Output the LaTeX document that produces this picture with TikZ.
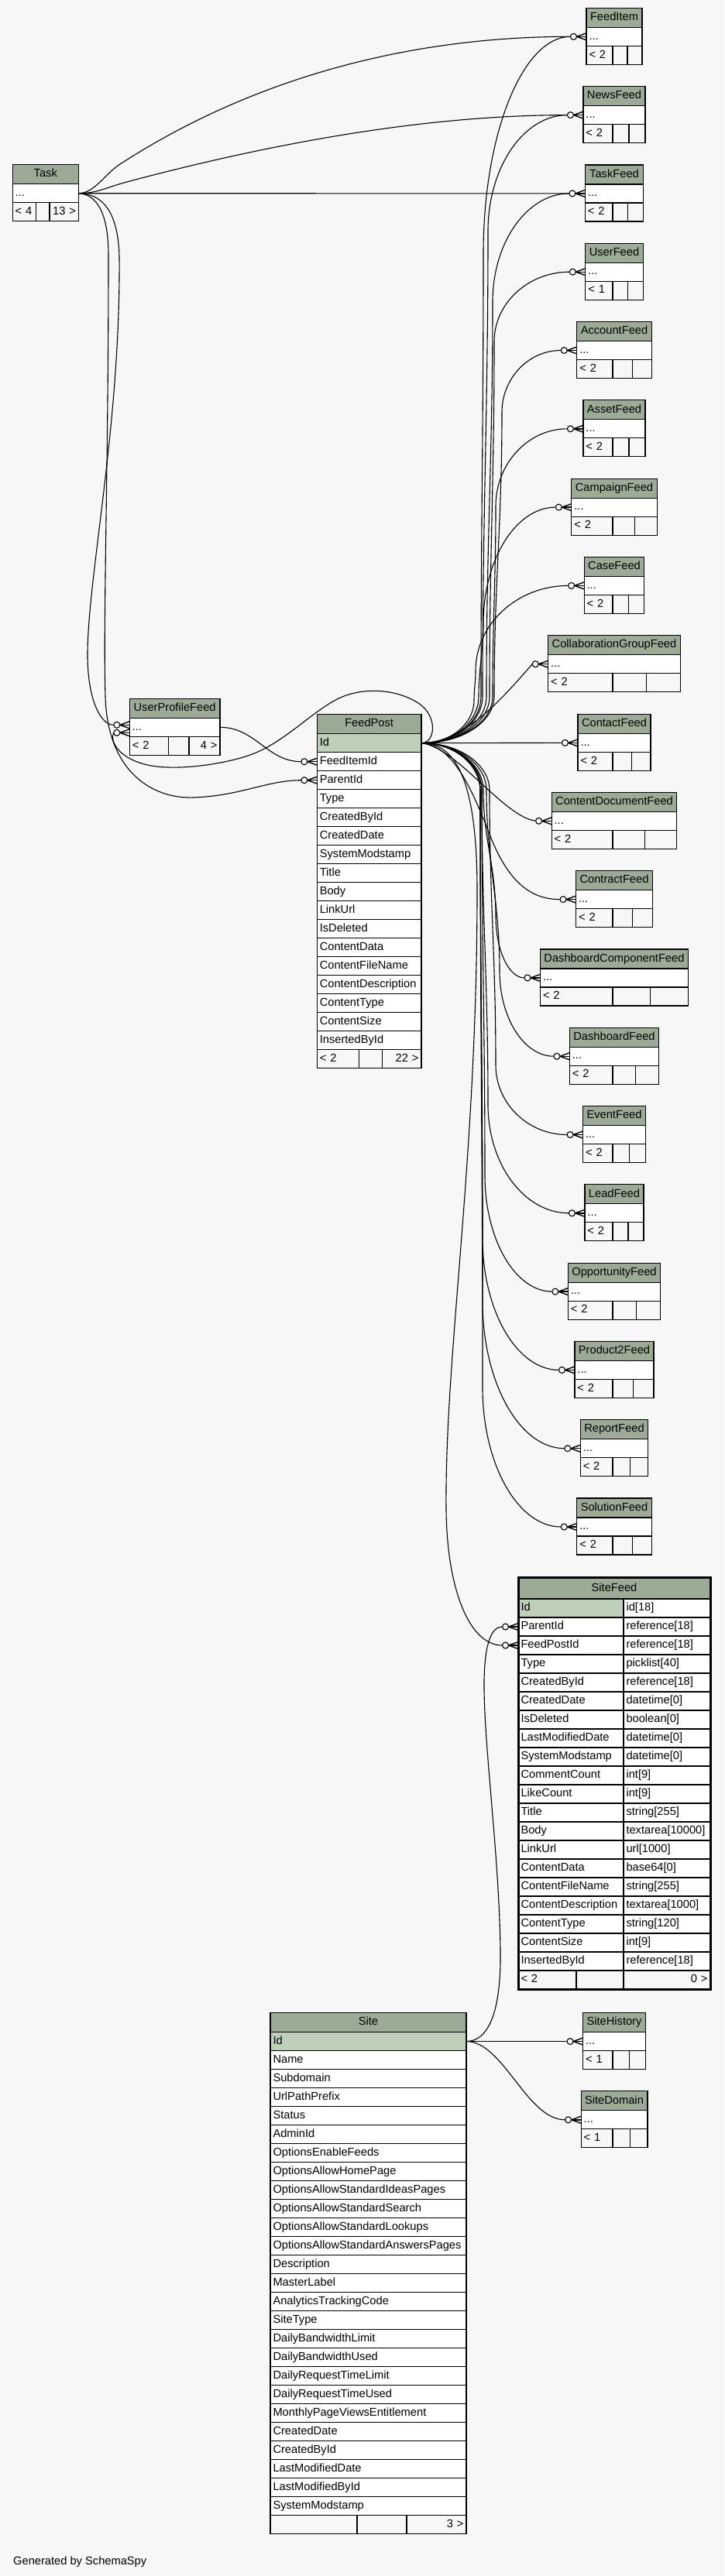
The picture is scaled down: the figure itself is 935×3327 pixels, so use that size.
\documentclass[tikz,border=0pt]{standalone}
\usepackage{fontspec}
\setmainfont{Liberation Sans}
\usetikzlibrary{calc}
\definecolor{bgcol}{HTML}{F7F7F7}
\definecolor{hdrgreen}{HTML}{9BAB96}
\definecolor{pkgreen}{HTML}{BED1B8}
\newcommand\tf{\fontsize{14.67}{17}\selectfont}
\pgfdeclarelayer{bglayer}
\pgfdeclarelayer{edgelayer}
\pgfsetlayers{bglayer,edgelayer,main}
\tikzset{
  cellbase/.style={draw=black, line width=1.2pt, inner xsep=3.5pt, inner ysep=0pt,
    minimum height=24pt, text height=10.5pt, text depth=3pt, font=\tf,
    anchor=north west, outer sep=0pt},
  hdrcell/.style={cellbase, fill=hdrgreen, align=center, minimum height=25pt},
  pkcell/.style={cellbase, fill=pkgreen, align=left},
  bodycell/.style={cellbase, fill=white, align=left},
  footcell/.style={cellbase, fill=bgcol, align=left},
  footright/.style={cellbase, fill=bgcol, align=right},
  edge/.style={draw=black, line width=1.1pt},
  crowline/.style={draw=black, line width=1.4pt, line join=round},
}
\newcommand\cellnode[6]{%
  \pgfmathsetmacro\cellw{#5-7}%
  \node[#1, text width=\cellw pt] (#2) at (#3,#4) {\mbox{#6}};%
}
\newcommand\smalltbl[5]{%
  \pgfmathsetmacro\tbxl{793-(#3)/2}%
  \pgfmathsetmacro\tbxr{793+(#3)/2}%
  \pgfmathsetmacro\tbsb{(791+\tbxr)/2}%
  \cellnode{hdrcell}{#1}{\tbxl}{#4}{#3}{#2}%
  \cellnode{bodycell}{#1-r}{\tbxl}{#4+25}{#3}{...}%
  \cellnode{footcell}{#1-fa}{\tbxl}{#4+49}{791-\tbxl}{#5}%
  \cellnode{footcell}{#1-fb}{791}{#4+49}{\tbsb-791}{}%
  \cellnode{footcell}{#1-fc}{\tbsb}{#4+49}{\tbxr-\tbsb}{}%
  \coordinate (#1-in) at ($(#1-r.west)+(-20.5,0)$);%
}
\newcommand\crowat[2]{%
  \draw[edge] ($(#1.west)+(-16.5,#2)$) circle[radius=4pt];
  \draw[crowline] ($(#1.west)+(0,#2-4.5)$) -- ($(#1.west)+(-12.5,#2)$) -- ($(#1.west)+(0,#2+4.5)$);
  \draw[crowline] ($(#1.west)+(-12.5,#2)$) -- ($(#1.west)+(0,#2)$);
}
% #1 target table, #2 trunk x low, #3 trunk x high, #4 first bend y, #5 signed bend height
\newcommand\fan[5]{%
  \draw[edge] let \p1=(FeedPost-Id.east), \p2=(#1-in) in
    (FeedPost-Id.east) .. controls ({\x1+0.6*(#2pt-\x1)},\y1) and (#2pt,{0.5*(\y1-#4pt)}) .. (#2pt,-#4pt)
    .. controls (#2pt,{-#4pt+0.4*(\y2-(#5pt)+#4pt)}) and (#3pt,{\y2-(#5pt)-0.4*(\y2-(#5pt)+#4pt)}) .. (#3pt,{\y2-(#5pt)})
    .. controls (#3pt,{\y2-0.45*(#5pt)}) and ({#3pt+0.45*(\x2-#3pt)},\y2) .. (#1-in);
  \crowat{#1-r}{0}%
}
\begin{document}
\begin{tikzpicture}[x=1pt,y=-1pt]
\useasboundingbox (0,0) rectangle (935,3327);
\begin{pgfonlayer}{bglayer}
\fill[bgcol] (0,0) rectangle (935,3327);
\end{pgfonlayer}

% ---------- small tables on the right ----------
\smalltbl{FeedItem}{FeedItem}{72.0}{10.3}{<~2}
\smalltbl{NewsFeed}{NewsFeed}{80.1}{111.6}{<~2}
\smalltbl{TaskFeed}{TaskFeed}{75.2}{212.9}{<~2}
\smalltbl{UserFeed}{UserFeed}{74.4}{314.2}{<~1}
\smalltbl{AccountFeed}{AccountFeed}{96.4}{415.5}{<~2}
\smalltbl{AssetFeed}{AssetFeed}{80.1}{516.8}{<~2}
\smalltbl{CampaignFeed}{CampaignFeed}{110.3}{618.1}{<~2}
\smalltbl{CaseFeed}{CaseFeed}{77.7}{719.4}{<~2}
\smalltbl{CollaborationGroupFeed}{CollaborationGroupFeed}{170.6}{820.7}{<~2}
\smalltbl{ContactFeed}{ContactFeed}{94.0}{922.4}{<~2}
\smalltbl{ContentDocumentFeed}{ContentDocumentFeed}{161.7}{1023.3}{<~2}
\smalltbl{ContractFeed}{ContractFeed}{98.9}{1124.6}{<~2}
\smalltbl{DashboardComponentFeed}{DashboardComponentFeed}{191.0}{1225.9}{<~2}
\smalltbl{DashboardFeed}{DashboardFeed}{115.2}{1327.2}{<~2}
\smalltbl{EventFeed}{EventFeed}{80.9}{1428.5}{<~2}
\smalltbl{LeadFeed}{LeadFeed}{76.1}{1529.8}{<~2}
\smalltbl{OpportunityFeed}{OpportunityFeed}{119.3}{1631.1}{<~2}
\smalltbl{Product2Feed}{Product2Feed}{102.1}{1732.4}{<~2}
\smalltbl{ReportFeed}{ReportFeed}{87.5}{1833.7}{<~2}
\smalltbl{SolutionFeed}{SolutionFeed}{96.4}{1935.0}{<~2}
\smalltbl{SiteHistory}{SiteHistory}{80.9}{2599.5}{<~1}
\smalltbl{SiteDomain}{SiteDomain}{85.8}{2700.8}{<~1}

% ---------- Task ----------
\cellnode{hdrcell}{Task}{16.1}{212.7}{85.3}{Task}
\cellnode{bodycell}{Task-r}{16.1}{237.7}{85.3}{...}
\cellnode{footcell}{Task-fa}{16.1}{261.7}{30.4}{<~4}
\cellnode{footcell}{Task-fb}{46.5}{261.7}{17.5}{}
\cellnode{footright}{Task-fc}{64}{261.7}{37.4}{13~>}

% ---------- UserProfileFeed ----------
\cellnode{hdrcell}{UPF}{167.3}{902.3}{116.7}{UserProfileFeed}
\cellnode{bodycell}{UPF-r}{167.3}{927.3}{116.7}{...}
\cellnode{footcell}{UPF-fa}{167.3}{951.3}{50}{<~2}
\cellnode{footcell}{UPF-fb}{217.3}{951.3}{26.7}{}
\cellnode{footright}{UPF-fc}{244}{951.3}{40}{4~>}

% ---------- FeedPost ----------
\cellnode{hdrcell}{FeedPost}{409.3}{922.7}{134.7}{FeedPost}
\cellnode{pkcell}{FeedPost-Id}{409.3}{947.7}{134.7}{Id}
\foreach \nm [count=\i] in {FeedItemId,ParentId,Type,CreatedById,CreatedDate,SystemModstamp,Title,Body,LinkUrl,IsDeleted,ContentData,ContentFileName,ContentDescription,ContentType,ContentSize,InsertedById}{
  \cellnode{bodycell}{FeedPost-\nm}{409.3}{947.7+24*\i}{134.7}{\nm}
}
\cellnode{footcell}{FeedPost-fa}{409.3}{1355.7}{54}{<~2}
\cellnode{footcell}{FeedPost-fb}{463.3}{1355.7}{29.8}{}
\cellnode{footright}{FeedPost-fc}{493.1}{1355.7}{50.9}{22~>}

% ---------- SiteFeed ----------
\cellnode{hdrcell, minimum height=27.5pt}{SiteFeed}{669}{2037.5}{248}{SiteFeed}
\cellnode{pkcell}{SiteFeed-Id}{669}{2065}{136}{Id}
\cellnode{bodycell}{SiteFeed-Id-t}{805}{2065}{112}{id[18]}
\foreach \nm/\ty [count=\i] in {ParentId/reference[18],FeedPostId/reference[18],Type/picklist[40],CreatedById/reference[18],CreatedDate/datetime[0],IsDeleted/boolean[0],LastModifiedDate/datetime[0],SystemModstamp/datetime[0],CommentCount/int[9],LikeCount/int[9],Title/string[255],Body/textarea[10000],LinkUrl/url[1000],ContentData/base64[0],ContentFileName/string[255],ContentDescription/textarea[1000],ContentType/string[120],ContentSize/int[9],InsertedById/reference[18]}{
  \cellnode{bodycell}{SiteFeed-\nm}{669}{2065+24*\i}{136}{\nm}
  \cellnode{bodycell}{SiteFeed-\nm-t}{805}{2065+24*\i}{112}{\ty}
}
\cellnode{footcell}{SiteFeed-fa}{669}{2545}{75}{<~2}
\cellnode{footcell}{SiteFeed-fb}{744}{2545}{61}{}
\cellnode{footright}{SiteFeed-fc}{805}{2545}{112}{0~>}
\draw[line width=3pt] (SiteFeed.north west) rectangle (SiteFeed-fc.south east);

% ---------- Site ----------
\cellnode{hdrcell}{Site}{349}{2599.5}{253}{Site}
\cellnode{pkcell}{Site-Id}{349}{2624.5}{253}{Id}
\foreach \nm [count=\i] in {Name,Subdomain,UrlPathPrefix,Status,AdminId,OptionsEnableFeeds,OptionsAllowHomePage,OptionsAllowStandardIdeasPages,OptionsAllowStandardSearch,OptionsAllowStandardLookups,OptionsAllowStandardAnswersPages,Description,MasterLabel,AnalyticsTrackingCode,SiteType,DailyBandwidthLimit,DailyBandwidthUsed,DailyRequestTimeLimit,DailyRequestTimeUsed,MonthlyPageViewsEntitlement,CreatedDate,CreatedById,LastModifiedDate,LastModifiedById,SystemModstamp}{
  \cellnode{bodycell}{Site-\nm}{349}{2624.5+24*\i}{253}{\nm}
}
\cellnode{footcell}{Site-fa}{349}{3248.5}{112}{}
\cellnode{footcell}{Site-fb}{461}{3248.5}{64}{}
\cellnode{footright}{Site-fc}{525}{3248.5}{77}{3~>}

\node[font=\tf, anchor=base west, inner sep=0pt] (gen) at (17,3312) {Generated by SchemaSpy};

% ---------- connector end points ----------
\coordinate (UPF-in-a) at ($(UPF-r.west)+(-20.5,-3)$);
\coordinate (UPF-in-b) at ($(UPF-r.west)+(-20.5,7)$);
\coordinate (FeedPost-in-item) at ($(FeedPost-FeedItemId.west)+(-20.5,0)$);
\coordinate (FeedPost-in-parent) at ($(FeedPost-ParentId.west)+(-20.5,0)$);
\coordinate (SiteFeed-in-parent) at ($(SiteFeed-ParentId.west)+(-20.5,0)$);
\coordinate (SiteFeed-in-post) at ($(SiteFeed-FeedPostId.west)+(-20.5,0)$);

% ---------- connectors ----------
\begin{pgfonlayer}{edgelayer}
% from Task
\draw[edge] (Task-r.east) .. controls (122,249.7) and (135,225) .. (155,212) .. controls (320,105) and (520,47.3) .. (FeedItem-in);
\draw[edge] (Task-r.east) .. controls (125,249.7) and (138,242) .. (160,236) .. controls (350,185) and (550,148.6) .. (NewsFeed-in);
\draw[edge] (Task-r.east) -- (TaskFeed-in);
\draw[edge] (Task-r.east) .. controls (130,250) and (152,270) .. (154,330) .. controls (156,550) and (112,750) .. (113,850) .. controls (114,905) and (130,936.3) .. (UPF-in-a);
\draw[edge] (Task-r.east) .. controls (125,251) and (140,275) .. (140,330) .. controls (140,600) and (133,800) .. (136,900) .. controls (139,1000) and (200,1032) .. (250,1030) .. controls (310,1028) and (345,1007.7) .. (FeedPost-in-parent);
\crowat{FeedPost-ParentId}{0}
% UserProfileFeed -> FeedPost.FeedItemId
\draw[edge] (UPF-r.east) .. controls (330,939.3) and (345,983.7) .. (FeedPost-in-item);
\crowat{FeedPost-FeedItemId}{0}
% FeedPost.Id -> UserProfileFeed
\draw[edge] (FeedPost-Id.east) .. controls (562,959.7) and (566,925) .. (540,908) .. controls (515,892) and (480,888) .. (450,897) .. controls (410,909) and (370,960) .. (320,976) .. controls (285,988) and (215,998) .. (180,985) .. controls (150,975) and (142,955) .. (UPF-in-b);
\crowat{UPF-r}{-3}
\crowat{UPF-r}{7}
% FeedPost.Id fan to the right
\fan{FeedItem}{621}{624}{900}{280}
\fan{NewsFeed}{623}{630}{900}{150}
\fan{TaskFeed}{628}{636}{900}{140}
\fan{UserFeed}{632}{638}{900}{90}
\fan{AccountFeed}{638}{648}{900}{80}
\fan{AssetFeed}{636}{640}{900}{100}
\fan{CampaignFeed}{618}{624}{900}{150}
\fan{CaseFeed}{612}{614}{905}{110}
\draw[edge] (FeedPost-Id.east) .. controls (600,959.7) and (650,900) .. (CollaborationGroupFeed-in);
\crowat{CollaborationGroupFeed-r}{0}
\draw[edge] (FeedPost-Id.east) -- (ContactFeed-in);
\crowat{ContactFeed-r}{0}
\draw[edge] (FeedPost-Id.east) .. controls (590,965) and (650,1055) .. (ContentDocumentFeed-in);
\crowat{ContentDocumentFeed-r}{0}
\draw[edge] (FeedPost-Id.east) .. controls (585,962) and (610,1020) .. (635,1085) .. controls (660,1145) and (690,1161.6) .. (ContractFeed-in);
\crowat{ContractFeed-r}{0}
\fan{DashboardComponentFeed}{624}{640}{1020}{-80}
\fan{DashboardFeed}{628}{645}{1020}{-110}
\fan{EventFeed}{632}{640}{1020}{-90}
\fan{LeadFeed}{622}{630}{1020}{-140}
\fan{OpportunityFeed}{622}{626}{1020}{-150}
\fan{Product2Feed}{620}{623}{1020}{-170}
\fan{ReportFeed}{620}{623}{1020}{-190}
\fan{SolutionFeed}{620}{623}{1020}{-180}
% FeedPost.Id -> SiteFeed.FeedPostId
\draw[edge] (FeedPost-Id.east) .. controls (585,959.7) and (616,1000) .. (616,1150) .. controls (616,1500) and (574,1750) .. (576,1950) .. controls (577,2050) and (605,2125) .. (SiteFeed-in-post);
\crowat{SiteFeed-FeedPostId}{0}
% Site.Id connectors
\draw[edge] (Site-Id.east) .. controls (630,2636.5) and (647,2600) .. (646,2520) .. controls (645,2400) and (624,2250) .. (625,2170) .. controls (626,2120) and (635,2101) .. (SiteFeed-in-parent);
\crowat{SiteFeed-ParentId}{0}
\draw[edge] (Site-Id.east) -- (SiteHistory-in);
\crowat{SiteHistory-r}{0}
\draw[edge] (Site-Id.east) .. controls (650,2636.5) and (680,2737.8) .. (SiteDomain-in);
\crowat{SiteDomain-r}{0}
\end{pgfonlayer}
\end{tikzpicture}
\end{document}
